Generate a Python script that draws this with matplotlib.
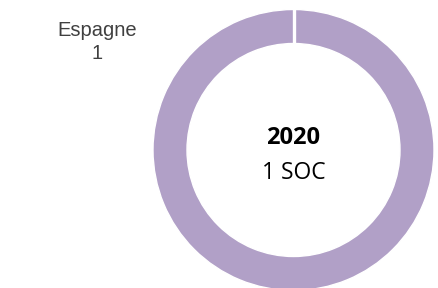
import matplotlib.pyplot as plt

# data
countries = ["Espagne"]
counts = [1]
year = "2020"
total_label = "1 SOC"
colors = ["#B1A0C7"]

W, H = 438, 288
cx, cy = 293.5, 150
R = 140.5
ring = 34

fig = plt.figure(figsize=(W / 100, H / 100), dpi=100)
ax = fig.add_axes([0, 0, 1, 1])

ax.pie(counts, radius=R, colors=colors, startangle=90, counterclock=False,
       wedgeprops=dict(width=ring, edgecolor="white", linewidth=1.0))
# white separator at the slice start (12 o'clock)
ax.plot([0, 0], [R - ring - 1, R + 1], color="white", lw=2.4,
        solid_capstyle="butt")

ax.set_xlim(-cx, W - cx)
ax.set_ylim(-(H - cy), cy)
ax.axis("off")

# data label outside ring
for name, n in zip(countries, counts):
    ax.text(97 - cx, cy - 42, f"{name}\n{n}", ha="center", va="center",
            fontsize=14.5, color="#404040", family="Liberation Sans",
            linespacing=1.25)

# centre text
ax.text(0, cy - 138.5, year, ha="center", va="center", fontsize=17,
        fontweight="bold", family="Open Sans", color="black")
ax.text(0, cy - 173, total_label, ha="center", va="center", fontsize=16.5,
        family="Open Sans", color="black")

fig.savefig("out.png", dpi=100)
